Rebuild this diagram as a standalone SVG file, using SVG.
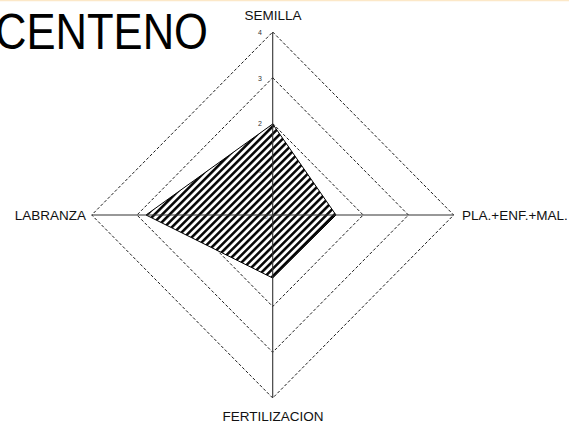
<svg xmlns="http://www.w3.org/2000/svg" width="569" height="423" viewBox="0 0 569 423">
<defs>
<pattern id="hatch" patternUnits="userSpaceOnUse" width="5.3" height="10" patternTransform="rotate(45)">
<line x1="1.3" y1="0" x2="1.3" y2="10" stroke="#000" stroke-width="2.5"/>
</pattern>
</defs>
<style>
.lbl{font-family:"Liberation Sans",Arial,sans-serif;font-size:13.5px;fill:#111}
.tick{font-family:"Liberation Sans",Arial,sans-serif;font-size:7px;fill:#333;text-anchor:middle}
.grid{fill:none;stroke:#000;stroke-width:0.9;stroke-dasharray:3 2}
.axis{stroke:#333;stroke-width:1.1}
</style>
<rect x="0" y="0" width="569" height="423" fill="#fff"/>
<line x1="0" y1="0.5" x2="569" y2="0.5" stroke="#fce8c8" stroke-width="1.5"/>
<text id="title" x="-5" y="49" font-family="'Liberation Sans',Arial,sans-serif" font-size="50" textLength="213" lengthAdjust="spacingAndGlyphs" fill="#000">CENTENO</text>
<g id="grid">
<polygon class="grid" points="272.7,169.25 317.95,215 272.7,260.75 227.45,215"/>
<polygon class="grid" points="272.7,123.5 363.2,215 272.7,306.5 182.2,215"/>
<polygon class="grid" points="272.7,77.75 408.45,215 272.7,352.25 136.95,215"/>
<polygon class="grid" points="272.7,32 453.7,215 272.7,398 91.7,215"/>
</g>
<g id="data">
<polygon points="272.7,124 336,215 272.7,278 146,215" fill="#fff"/>
<polygon points="272.7,124 336,215 272.7,278 146,215" fill="url(#hatch)" stroke="#000" stroke-width="1"/>
</g>
<g id="connectors">
<line class="axis" x1="272.7" y1="215" x2="272.7" y2="32"/>
<line class="axis" x1="272.7" y1="215" x2="272.7" y2="398"/>
<line class="axis" x1="272.7" y1="215" x2="91.7" y2="215"/>
<line class="axis" x1="272.7" y1="215" x2="453.7" y2="215"/>
</g>
<g id="ticks">
<text class="tick" x="260" y="35">4</text>
<text class="tick" x="260" y="81">3</text>
<text class="tick" x="260" y="126">2</text>
<text class="tick" x="260" y="173" fill-opacity="0.5">1</text>
<text class="tick" x="266" y="219" fill-opacity="0.5">0</text>
</g>
<g id="semilla"><text class="lbl" x="273" y="20" text-anchor="middle">SEMILLA</text></g>
<g id="labranza"><text class="lbl" x="86" y="219.5" text-anchor="end">LABRANZA</text></g>
<g id="pla"><text class="lbl" x="462" y="219.5">PLA.+ENF.+MAL.</text></g>
<g id="fertilizacion"><text class="lbl" x="273" y="421" text-anchor="middle">FERTILIZACION</text></g>
</svg>
